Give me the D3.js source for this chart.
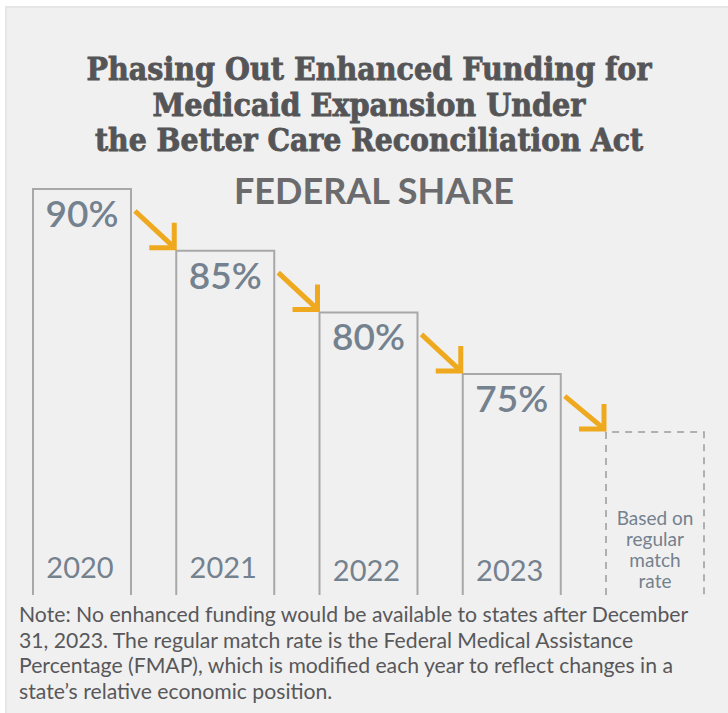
<!DOCTYPE html>
<html>
<head>
<meta charset="utf-8">
<script src="https://cdn.jsdelivr.net/npm/d3@7/dist/d3.min.js"></script>
<style>
  body { margin: 0; background: #fff; }
</style>
</head>
<body>
<div id="chart"></div>
<script>
// chart data
const years = ["2020", "2021", "2022", "2023", "later"];
const shares = [90, 85, 80, 75, 70.3]; // last one is a placeholder box (regular FMAP)
const titleLines = [
  "Phasing Out Enhanced Funding for",
  "Medicaid Expansion Under",
  "the Better Care Reconciliation Act"
];
const subtitle = "FEDERAL SHARE";
const regularLines = ["Based on", "regular", "match", "rate"];
const noteLines = [
  "Note: No enhanced funding would be available to states after December",
  "31, 2023. The regular match rate is the Federal Medical Assistance",
  "Percentage (FMAP), which is modified each year to reflect changes in a",
  "state\u2019s relative economic position."
];

const W = 728, H = 713;
const slate = "#74818e", orange = "#efa91f";

const svg = d3.select("#chart").append("svg")
  .attr("width", W)
  .attr("height", H);

// background panel
svg.append("rect")
  .attr("x", 6).attr("y", 7)
  .attr("width", W).attr("height", H)
  .attr("fill", "#f0f0f0")
  .attr("stroke", "#e6e6e6")
  .attr("stroke-width", 2);

// title (slab serif, a bit heavier than DejaVu bold)
const titleWidths = [565, 433, 548];
svg.append("g").selectAll("text")
  .data(titleLines)
  .join("text")
  .attr("x", 369)
  .attr("y", (d, i) => 80 + i * 35.5)
  .attr("text-anchor", "middle")
  .attr("font-family", "'DejaVu Serif', serif")
  .attr("font-stretch", "condensed")
  .attr("font-weight", "bold")
  .attr("font-size", 32)
  .attr("fill", "#555557")
  .attr("stroke", "#555557")
  .attr("stroke-width", 0.8)
  .attr("textLength", (d, i) => titleWidths[i])
  .attr("lengthAdjust", "spacingAndGlyphs")
  .text(d => d);

svg.append("text")
  .attr("x", 374)
  .attr("y", 204)
  .attr("text-anchor", "middle")
  .attr("font-family", "Lato, sans-serif")
  .attr("font-weight", "bold")
  .attr("font-size", 36)
  .attr("fill", "#6b6b6d")
  .text(subtitle);

// scales
const x = d3.scaleBand()
  .domain(years)
  .range([33, 704])
  .paddingInner(0.316)
  .paddingOuter(0);

const bottom = 595;
const y = d3.scaleLinear()
  .domain([57.1, 90])
  .range([bottom, 189]);

const bw = x.bandwidth();
const data = years.map((yr, i) => ({ year: yr, share: shares[i], last: i === years.length - 1 }));

// bars: open at the bottom
svg.append("g").selectAll("path")
  .data(data)
  .join("path")
  .attr("d", d => {
    const x0 = x(d.year), x1 = x0 + bw, y0 = y(d.share);
    return `M${x0},${bottom}V${y0}H${x1}V${bottom}`;
  })
  .attr("fill", "none")
  .attr("stroke", d => d.last ? "#9a9a9a" : "#a8a8a8")
  .attr("stroke-width", d => d.last ? 1.5 : 2)
  .attr("stroke-dasharray", d => d.last ? "7,6" : null);

// percent labels
svg.append("g").selectAll("text")
  .data(data.filter(d => !d.last))
  .join("text")
  .attr("x", d => x(d.year) + bw / 2)
  .attr("y", d => y(d.share) + 38)
  .attr("text-anchor", "middle")
  .attr("font-family", "Lato, sans-serif")
  .attr("font-weight", 600)
  .attr("font-size", 37)
  .attr("fill", slate)
  .text(d => d.share + "%");

// year labels
svg.append("g").selectAll("text")
  .data(data.filter(d => !d.last))
  .join("text")
  .attr("x", d => x(d.year) + bw / 2 - 2)
  .attr("y", (d, i) => i < 2 ? 578 : 581)
  .attr("text-anchor", "middle")
  .attr("font-family", "Lato, sans-serif")
  .attr("font-size", 29)
  .attr("fill", slate)
  .text(d => d.year);

// placeholder text in the dashed box
const lastYear = years[years.length - 1];
svg.append("g").selectAll("text")
  .data(regularLines)
  .join("text")
  .attr("x", x(lastYear) + bw / 2)
  .attr("y", (d, i) => 525 + i * 21)
  .attr("text-anchor", "middle")
  .attr("font-family", "Lato, sans-serif")
  .attr("font-size", 19)
  .attr("fill", slate)
  .text(d => d);

// arrows between bars
const arrows = d3.pairs(data).map(([a, b]) => ({
  x0: x(a.year) + bw + 4, y0: y(a.share) + 22,
  x1: x(b.year) - 2, y1: y(b.share) - 3
}));

const ag = svg.append("g")
  .attr("fill", "none")
  .attr("stroke", orange)
  .attr("stroke-width", 5)
  .attr("stroke-linejoin", "miter");

ag.selectAll("line")
  .data(arrows)
  .join("line")
  .attr("x1", d => d.x0).attr("y1", d => d.y0)
  .attr("x2", d => d.x1 - 2).attr("y2", d => d.y1 - 2);

ag.selectAll("path")
  .data(arrows)
  .join("path")
  .attr("d", d => `M${d.x1 - 25},${d.y1}H${d.x1}V${d.y1 - 25}`);

// note
svg.append("g").selectAll("text")
  .data(noteLines)
  .join("text")
  .attr("x", 19)
  .attr("y", (d, i) => 622 + i * 25.6)
  .attr("font-family", "Lato, sans-serif")
  .attr("font-size", 21.2)
  .attr("fill", "#58585a")
  .text(d => d);
</script>
</body>
</html>
